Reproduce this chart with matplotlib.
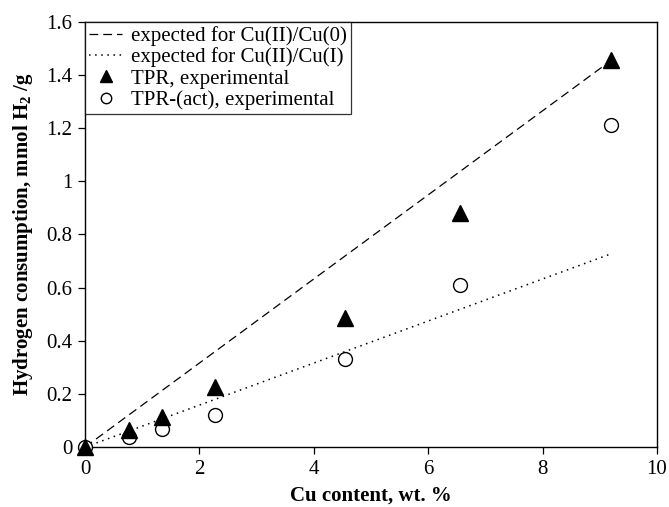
import matplotlib.pyplot as plt

plt.rcParams['font.family'] = ['Liberation Serif', 'DejaVu Serif']
plt.rcParams['mathtext.fontset'] = 'custom'
plt.rcParams['mathtext.rm'] = 'Liberation Serif'
plt.rcParams['mathtext.bf'] = 'Liberation Serif:bold'

# Cu content, wt.%
cu = [0, 0.77, 1.35, 2.27, 4.55, 6.55, 9.2]
# H2 consumption, mmol/g
tpr = [0, 0.065, 0.115, 0.225, 0.485, 0.88, 1.455]
tpr_act = [0, 0.04, 0.07, 0.12, 0.33, 0.61, 1.21]

# theoretical lines
line_x = [0, 9.2]
cu0 = [0, 1.455]
cu1 = [0, 0.7275]

fig = plt.figure(figsize=(6.69, 5.07), dpi=100)
ax = fig.add_axes([0.127, 0.118, 0.855, 0.839])

ax.plot(line_x, cu0, color='black', lw=0.9, dashes=(7, 4), label='expected for Cu(II)/Cu(0)')
ax.plot(line_x, cu1, color='black', lw=1.1, dashes=(1, 3), label='expected for Cu(II)/Cu(I)')
ax.plot(cu, tpr, '^', color='black', ms=11, ls='none', clip_on=False, zorder=4,
        label='TPR, experimental')
ax.plot(cu, tpr_act, 'o', mfc='white', mec='black', mew=1.0, ms=10, ls='none',
        clip_on=False, zorder=3, label='TPR-(act), experimental')

ax.set_xlim(0, 10)
ax.set_ylim(0, 1.6)
ax.set_xticks([0, 2, 4, 6, 8, 10])
ax.set_xticklabels(['0', '2', '4', '6', '8', '10'])
ax.set_yticks([0, 0.2, 0.4, 0.6, 0.8, 1.0, 1.2, 1.4, 1.6])
ax.set_yticklabels(['0', '0.2', '0.4', '0.6', '0.8', '1', '1.2', '1.4', '1.6'])
ax.tick_params(direction='out', length=5, width=0.9, labelsize=15, pad=4)
for s in ax.spines.values():
    s.set_linewidth(1.0)

ax.set_xlabel('Cu content, wt. %', fontsize=15, fontweight='bold', labelpad=5)
ax.set_ylabel(r'Hydrogen consumption, mmol H$_\mathbf{2}$ /g', fontsize=15, fontweight='bold', labelpad=8)

leg = ax.legend(loc='upper left', fontsize=15, frameon=True, fancybox=False,
                borderaxespad=0.0, handlelength=1.6, handletextpad=0.4,
                labelspacing=0.08, borderpad=0.2, markerscale=0.75)
leg.get_frame().set_edgecolor('black')
leg.get_frame().set_linewidth(0.9)

fig.savefig('out.png', dpi=100)
